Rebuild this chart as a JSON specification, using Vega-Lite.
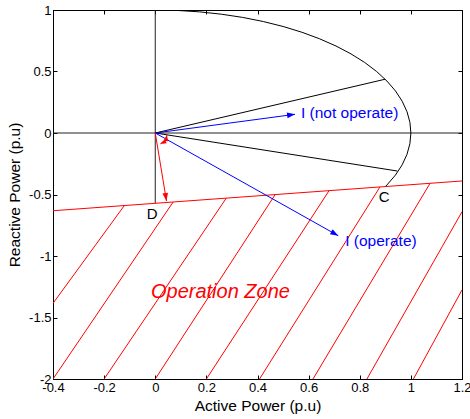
{
  "$schema": "https://vega.github.io/schema/vega-lite/v6.json",
  "width": 409,
  "height": 369,
  "autosize": {"type": "none"},
  "padding": {"left": 53, "top": 10, "right": 8, "bottom": 40},
  "background": "white",
  "config": {
    "font": "Liberation Sans",
    "view": {"stroke": "#000", "strokeWidth": 1},
    "axis": {
      "grid": false,
      "domainColor": "#000",
      "tickColor": "#000",
      "labelColor": "#000",
      "titleColor": "#000",
      "labelFontSize": 13,
      "titleFontSize": 15.5,
      "titleFontWeight": "normal",
      "tickSize": -4,
      "labelPadding": 6,
      "labelFlush": false,
      "labelOverlap": false,
      "labelBound": false
    }
  },
  "datasets": {
    "seg": [
      {"g": "axis", "x": -0.4, "y": 0, "x2": 1.2, "y2": 0},
      {"g": "axis", "x": 0, "y": 1, "x2": 0, "y2": -0.571},
      {"g": "black", "x": 0, "y": 0, "x2": 0.899, "y2": 0.437},
      {"g": "black", "x": 0, "y": 0, "x2": 0.947, "y2": -0.309},
      {"g": "red", "x": -0.4, "y": -0.632, "x2": 1.2, "y2": -0.39},
      {"g": "red", "x": -0.4, "y": -1.385, "x2": -0.121, "y2": -0.59},
      {"g": "red", "x": -0.4, "y": -2, "x2": 0.07, "y2": -0.561},
      {"g": "red", "x": -0.2, "y": -2, "x2": 0.278, "y2": -0.529},
      {"g": "red", "x": 0, "y": -2, "x2": 0.469, "y2": -0.501},
      {"g": "red", "x": 0.2, "y": -2, "x2": 0.68, "y2": -0.469},
      {"g": "red", "x": 0.408, "y": -2, "x2": 0.879, "y2": -0.439},
      {"g": "red", "x": 0.617, "y": -2, "x2": 1.075, "y2": -0.409},
      {"g": "red", "x": 0.828, "y": -2, "x2": 1.2, "y2": -0.64},
      {"g": "red", "x": 1.01, "y": -2, "x2": 1.2, "y2": -1.276},
      {"g": "blue", "x": 0, "y": 0, "x2": 0.547, "y2": 0.152},
      {"g": "blue", "x": 0, "y": 0, "x2": 0.716, "y2": -0.835},
      {"g": "red", "x": 0, "y": 0, "x2": 0.044, "y2": -0.553}
    ],
    "curve": [
      {"g": "black", "i": 0, "x": 0, "y": 1},
      {"g": "black", "i": 1, "x": 0.0872, "y": 0.9962},
      {"g": "black", "i": 2, "x": 0.1736, "y": 0.9848},
      {"g": "black", "i": 3, "x": 0.2588, "y": 0.9659},
      {"g": "black", "i": 4, "x": 0.342, "y": 0.9397},
      {"g": "black", "i": 5, "x": 0.4226, "y": 0.9063},
      {"g": "black", "i": 6, "x": 0.5, "y": 0.866},
      {"g": "black", "i": 7, "x": 0.5736, "y": 0.8192},
      {"g": "black", "i": 8, "x": 0.6428, "y": 0.766},
      {"g": "black", "i": 9, "x": 0.7071, "y": 0.7071},
      {"g": "black", "i": 10, "x": 0.766, "y": 0.6428},
      {"g": "black", "i": 11, "x": 0.8192, "y": 0.5736},
      {"g": "black", "i": 12, "x": 0.866, "y": 0.5},
      {"g": "black", "i": 13, "x": 0.9063, "y": 0.4226},
      {"g": "black", "i": 14, "x": 0.9397, "y": 0.342},
      {"g": "black", "i": 15, "x": 0.9659, "y": 0.2588},
      {"g": "black", "i": 16, "x": 0.9848, "y": 0.1736},
      {"g": "black", "i": 17, "x": 0.9962, "y": 0.0872},
      {"g": "black", "i": 18, "x": 1, "y": 0},
      {"g": "black", "i": 19, "x": 0.9962, "y": -0.0872},
      {"g": "black", "i": 20, "x": 0.9848, "y": -0.1736},
      {"g": "black", "i": 21, "x": 0.9659, "y": -0.2588},
      {"g": "black", "i": 22, "x": 0.9397, "y": -0.342},
      {"g": "black", "i": 23, "x": 0.9063, "y": -0.4226},
      {"g": "black", "i": 24, "x": 0.9018, "y": -0.4321},
      {"g": "red", "i": 0, "x": 0.046, "y": -0.017},
      {"g": "red", "i": 1, "x": 0.038, "y": -0.056},
      {"g": "red", "i": 2, "x": 0.02, "y": -0.089}
    ],
    "heads": [
      {"k": "b1", "x": 0.547, "y": 0.152},
      {"k": "b2", "x": 0.716, "y": -0.835},
      {"k": "r1", "x": 0.044, "y": -0.553},
      {"k": "r2", "x": 0.046, "y": -0.017},
      {"k": "r3", "x": 0.02, "y": -0.089}
    ],
    "labels": [
      {"k": "blue", "t": "I (not operate)", "x": 0.57, "y": 0.122},
      {"k": "blue", "t": "I (operate)", "x": 0.743, "y": -0.916},
      {"k": "black", "t": "D", "x": -0.0125, "y": -0.699},
      {"k": "black", "t": "C", "x": 0.896, "y": -0.563},
      {"k": "zone", "t": "Operation Zone", "x": 0.255, "y": -1.344}
    ]
  },
  "resolve": {"axis": {"x": "independent", "y": "independent"}},
  "layer": [
    {
      "data": {"name": "seg"},
      "mark": {"type": "rule", "strokeWidth": 1, "clip": true},
      "encoding": {
        "x": {
          "field": "x", "type": "quantitative",
          "scale": {"domain": [-0.4, 1.2], "nice": false, "zero": false},
          "axis": {
            "orient": "bottom",
            "values": [-0.4, -0.2, 0, 0.2, 0.4, 0.6, 0.8, 1, 1.2],
            "labelExpr": "'' + datum.value",
            "title": "Active Power (p.u)",
            "titlePadding": 4
          }
        },
        "y": {
          "field": "y", "type": "quantitative",
          "scale": {"domain": [-2, 1], "nice": false, "zero": false},
          "axis": {
            "orient": "left",
            "values": [-2, -1.5, -1, -0.5, 0, 0.5, 1],
            "labelExpr": "'' + datum.value",
            "title": "Reactive Power (p.u)",
            "titlePadding": 6
          }
        },
        "x2": {"field": "x2"},
        "y2": {"field": "y2"},
        "color": {
          "field": "g", "type": "nominal",
          "scale": {"domain": ["axis", "black", "red", "blue"], "range": ["#222222", "#000000", "#ff0000", "#0000ff"]},
          "legend": null
        }
      }
    },
    {
      "data": {"name": "seg"},
      "mark": {"type": "rule", "opacity": 0},
      "encoding": {
        "x": {
          "field": "x", "type": "quantitative",
          "axis": {"orient": "top", "values": [-0.4, -0.2, 0, 0.2, 0.4, 0.6, 0.8, 1, 1.2], "labels": false, "title": null}
        },
        "y": {
          "field": "y", "type": "quantitative",
          "axis": {"orient": "right", "values": [-2, -1.5, -1, -0.5, 0, 0.5, 1], "labels": false, "title": null}
        }
      }
    },
    {
      "data": {"name": "curve"},
      "mark": {"type": "line", "strokeWidth": 1, "clip": true},
      "encoding": {
        "x": {"field": "x", "type": "quantitative", "axis": null},
        "y": {"field": "y", "type": "quantitative", "axis": null},
        "order": {"field": "i", "type": "quantitative"},
        "detail": {"field": "g"},
        "color": {
          "field": "g", "type": "nominal",
          "scale": {"domain": ["axis", "black", "red", "blue"], "range": ["#222222", "#000000", "#ff0000", "#0000ff"]},
          "legend": null
        }
      }
    },
    {
      "data": {"name": "heads"},
      "transform": [{"filter": "datum.k == 'b1'"}],
      "mark": {"type": "point", "filled": true, "opacity": 1, "strokeWidth": 0, "shape": "M0,0L-2,-0.7L-2,0.7Z", "size": 64, "angle": 352.4, "color": "#0000ff"},
      "encoding": {
        "x": {"field": "x", "type": "quantitative", "axis": null},
        "y": {"field": "y", "type": "quantitative", "axis": null}
      }
    },
    {
      "data": {"name": "heads"},
      "transform": [{"filter": "datum.k == 'b2'"}],
      "mark": {"type": "point", "filled": true, "opacity": 1, "strokeWidth": 0, "shape": "M0,0L-2,-0.7L-2,0.7Z", "size": 64, "angle": 29.3, "color": "#0000ff"},
      "encoding": {
        "x": {"field": "x", "type": "quantitative", "axis": null},
        "y": {"field": "y", "type": "quantitative", "axis": null}
      }
    },
    {
      "data": {"name": "heads"},
      "transform": [{"filter": "datum.k == 'r1'"}],
      "mark": {"type": "point", "filled": true, "opacity": 1, "strokeWidth": 0, "shape": "M0,0L-2,-0.7L-2,0.7Z", "size": 64, "angle": 80.8, "color": "#ff0000"},
      "encoding": {
        "x": {"field": "x", "type": "quantitative", "axis": null},
        "y": {"field": "y", "type": "quantitative", "axis": null}
      }
    },
    {
      "data": {"name": "heads"},
      "transform": [{"filter": "datum.k == 'r2'"}],
      "mark": {"type": "point", "filled": true, "opacity": 1, "strokeWidth": 0, "shape": "M0,0L-2,-0.7L-2,0.7Z", "size": 36, "angle": 280, "color": "#ff0000"},
      "encoding": {
        "x": {"field": "x", "type": "quantitative", "axis": null},
        "y": {"field": "y", "type": "quantitative", "axis": null}
      }
    },
    {
      "data": {"name": "heads"},
      "transform": [{"filter": "datum.k == 'r3'"}],
      "mark": {"type": "point", "filled": true, "opacity": 1, "strokeWidth": 0, "shape": "M0,0L-2,-0.7L-2,0.7Z", "size": 36, "angle": 155, "color": "#ff0000"},
      "encoding": {
        "x": {"field": "x", "type": "quantitative", "axis": null},
        "y": {"field": "y", "type": "quantitative", "axis": null}
      }
    },
    {
      "data": {"name": "labels"},
      "transform": [{"filter": "datum.k == 'blue'"}],
      "mark": {"type": "text", "align": "left", "baseline": "alphabetic", "fontSize": 15.5, "color": "#0000ff"},
      "encoding": {
        "x": {"field": "x", "type": "quantitative", "axis": null},
        "y": {"field": "y", "type": "quantitative", "axis": null},
        "text": {"field": "t"}
      }
    },
    {
      "data": {"name": "labels"},
      "transform": [{"filter": "datum.k == 'black'"}],
      "mark": {"type": "text", "align": "center", "baseline": "alphabetic", "fontSize": 15, "color": "#000000"},
      "encoding": {
        "x": {"field": "x", "type": "quantitative", "axis": null},
        "y": {"field": "y", "type": "quantitative", "axis": null},
        "text": {"field": "t"}
      }
    },
    {
      "data": {"name": "labels"},
      "transform": [{"filter": "datum.k == 'zone'"}],
      "mark": {"type": "text", "align": "center", "baseline": "alphabetic", "fontSize": 20, "fontStyle": "italic", "color": "#ff0000"},
      "encoding": {
        "x": {"field": "x", "type": "quantitative", "axis": null},
        "y": {"field": "y", "type": "quantitative", "axis": null},
        "text": {"field": "t"}
      }
    }
  ]
}
